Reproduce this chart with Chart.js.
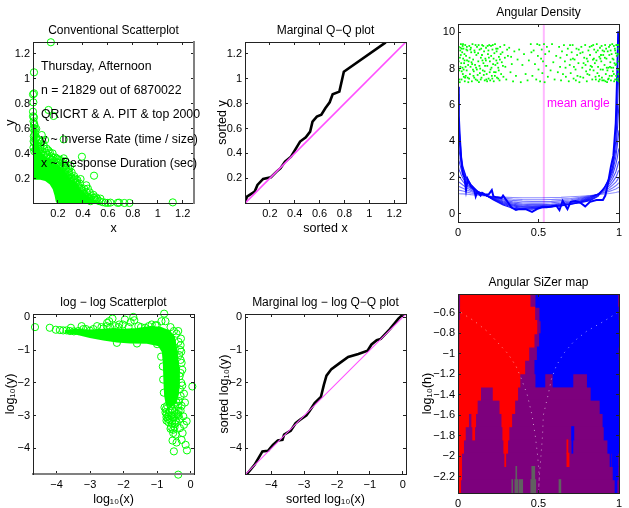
<!DOCTYPE html>
<html>
<head>
<meta charset="utf-8">
<title>Angular SiZer panels</title>
<script src="https://cdn.jsdelivr.net/npm/chart.js"></script>
<style>
  html, body { margin: 0; padding: 0; background: #fff; overflow: hidden; }
  canvas { position: absolute; }
</style>
</head>
<body>
<script>
// ── Data ───────────────────────────────────────────────────────────────────
const noteLines = [
  'Thursday, Afternoon',
  'n = 21829 out of 6870022',
  'QRICRT & A. PIT & top 2000',
  'y ~ Inverse Rate (time / size)',
  'x ~ Response Duration (sec)'
];
const linTicks = [0.2, 0.4, 0.6, 0.8, 1, 1.2];
const logTicks = [-4, -3, -2, -1, 0];
const angleTicks = [0, 0.5, 1];
const densityTicks = [0, 2, 4, 6, 8, 10];
const sizerTicks = [-0.6, -0.8, -1, -1.2, -1.4, -1.6, -1.8, -2, -2.2];

// conventional scatter: solid mass outline + individual circles
const scatterMass = [[0,.2],[.06,.2],[.1,.19],[.14,.16],[.165,.12],[.18,.07],[.19,.02],[.2,.005],[.53,.005],[.47,.03],[.42,.07],[.38,.1],[.34,.16],[.29,.2],[.24,.27],[.18,.31],[.13,.35],[.08,.38],[.05,.42],[.03,.5],[.018,.6],[0,.64]];
const scatterPts = [[.143,1.294],[.008,1.053],[.008,.884],[0,.876],[.003,.812],[0,.737],[0,.7],[.008,.692],[.124,.751],[.165,.703],[.392,.376],[.489,.224],[.246,.515],[1.12,.01],[.773,.005],[.732,.005],[.678,.006],[.69,.008],[.6,.006],[.62,.008],[.557,.012],[.58,.007],[.07,.55],[.097,.51],[.057,.457],[.124,.425],[.157,.403],[.205,.355],[.246,.363],[.3,.304],[.278,.256],[.327,.19],[.381,.197],[.427,.147],[.4,.1],[.484,.07],[.516,.037],[.457,.05],[.004,.66],[.012,.63],[.003,.6],[.016,.57],[.006,.54],[.022,.52],[.01,.49],[.03,.47],[.004,.45],[.04,.44],[.02,.43],[.06,.4],[.085,.385],[.11,.37],[.135,.36],[.165,.34],[.19,.33],[.215,.315],[.24,.29],[.26,.27],[.225,.3],[.29,.235],[.31,.21],[.27,.235],[.35,.17],[.33,.15],[.37,.13],[.345,.12],[.39,.12],[.41,.08],[.38,.08],[.43,.09],[.44,.055],[.47,.03],[.5,.03],[.53,.02],[.54,.04],[.46,.02],[.43,.03],[.075,.42],[.1,.41],[.145,.38],[.18,.37],[.205,.33],[.255,.31],[.285,.28],[.035,.49],[.05,.51],[.015,.6],[.21,.29],[.34,.2],[.3,.18],
  [.01,.42],[.025,.44],[.005,.5],[.028,.53],[.018,.48],[.012,.55],[.026,.6],[.008,.64],[.03,.4],[.045,.39],[.06,.44],[.08,.36],[.09,.44],[.115,.39],[.13,.33],[.15,.35],[.17,.3],[.19,.36],[.2,.3],[.22,.27],[.235,.33],[.25,.25],[.265,.3],[.28,.22],[.295,.2],[.31,.25],[.32,.18],[.34,.16],[.36,.15],[.355,.19],[.375,.16],[.39,.09],[.41,.12],[.42,.06],[.44,.12],[.455,.09],[.47,.06],[.49,.045],[.505,.05],[.45,.04],[.33,.22],[.29,.26],[.26,.34],[.22,.35],[.16,.37],[.135,.41],[.11,.44],[.085,.47],[.075,.5]];

// marginal Q-Q
const qqX = [0,.016,.078,.1,.146,.208,.254,.286,.322,.37,.403,.443,.489,.524,.543,.578,.614,.646,.681,.705,.759,.795,1.132];
const qqY = [.005,.053,.094,.147,.195,.209,.254,.281,.334,.374,.428,.495,.529,.575,.655,.695,.711,.762,.81,.874,.896,1.056,1.291];
const qqDiag = [0, 1.3];

// angular density: shared grid for the smooth family
const angleGrid = [0,.005,.01,.02,.03,.05,.08,.12,.17,.22,.28,.34,.4,.46,.52,.58,.64,.7,.76,.82,.87,.91,.94,.96,.98,.99,.995,1];
const density1  = [1.1,1.1,1.1,1.09,1.09,1.08,1.05,1.02,.98,.94,.91,.89,.88,.88,.88,.89,.9,.93,.96,1.0,1.04,1.08,1.11,1.14,1.17,1.19,1.2,1.2];
const density2  = [1.3,1.29,1.29,1.27,1.25,1.2,1.14,1.07,1.0,.93,.86,.81,.78,.77,.77,.78,.8,.84,.9,.98,1.06,1.15,1.23,1.29,1.36,1.41,1.44,1.45];
const density3  = [1.52,1.5,1.48,1.44,1.4,1.32,1.22,1.11,1.0,.9,.8,.73,.69,.67,.67,.68,.72,.77,.85,.95,1.07,1.2,1.32,1.42,1.54,1.62,1.67,1.7];
const density4  = [1.78,1.75,1.72,1.65,1.58,1.45,1.29,1.14,1.0,.88,.75,.65,.59,.58,.58,.6,.64,.7,.8,.93,1.08,1.26,1.42,1.57,1.74,1.86,1.95,2.0];
const density5  = [2.12,2.07,2.02,1.9,1.78,1.58,1.37,1.17,1.01,.86,.7,.58,.52,.5,.5,.52,.57,.64,.75,.9,1.08,1.32,1.53,1.74,2.0,2.2,2.32,2.4];
const density6  = [2.55,2.45,2.36,2.15,1.97,1.7,1.43,1.2,1.01,.84,.65,.52,.46,.44,.45,.47,.52,.6,.71,.87,1.08,1.37,1.65,1.92,2.3,2.6,2.78,2.9];
const density7  = [3.1,2.95,2.78,2.45,2.17,1.82,1.5,1.22,1.01,.82,.6,.47,.4,.39,.4,.43,.49,.56,.68,.84,1.08,1.42,1.77,2.12,2.7,3.1,3.4,3.6];
const density8  = [3.9,3.6,3.3,2.75,2.35,1.92,1.55,1.24,1.02,.8,.56,.42,.35,.34,.37,.4,.46,.53,.65,.8,1.05,1.45,1.87,2.3,3.1,3.8,4.25,4.6];
const density9  = [5.0,4.4,3.85,3.0,2.5,2.0,1.6,1.25,1.03,.78,.52,.37,.3,.3,.35,.38,.44,.52,.63,.76,1.0,1.45,1.95,2.45,3.5,4.6,5.4,6.0];
const density10 = [6.6,5.4,4.4,3.2,2.6,2.05,1.62,1.22,1.03,.75,.48,.3,.26,.25,.33,.37,.42,.52,.6,.72,.95,1.45,2.0,2.6,4.0,5.6,7.0,8.0];
const roughX = [.002,.005,.01,.02,.03,.04,.05,.06,.07,.08,.1,.11,.12,.14,.15,.17,.19,.21,.22,.24,.27,.28,.3,.33,.36,.38,.42,.46,.49,.52,.55,.58,.61,.63,.65,.68,.7,.73,.76,.79,.82,.86,.9,.915,.93,.95,.965,.98,.99,.995,1];
const roughY = [7,5.4,4.4,3,2.2,2,1.3,1.9,1.7,1.5,1.35,.95,1.2,1,1.15,1.05,1.05,1.3,.95,.9,.85,1,.75,.35,.2,.25,.25,.1,.25,.35,.35,.4,.45,.2,.7,.25,.65,.7,.6,.4,.65,.75,.75,1,1.6,2.6,3.2,5,8,10,10];
const meanAngle = 0.533;
const angleDots = [[.005,9.2],[.012,8.6],[.008,7.9],[.018,9.35],[.022,7.4],[.015,8.1],[.026,8.9],[.03,7.7],[.034,9.1],[.038,8.3],[.042,7.3],[.045,9.3],[.05,8.7],[.054,7.9],[.058,9],[.06,7.5],[.066,8.4],[.07,9.25],[.074,7.7],[.078,8.1],[.082,8.9],[.086,7.3],[.09,9.35],[.094,8.5],[.098,7.85],[.102,9],[.106,8.2],[.11,7.4],[.114,8.75],[.118,9.2],[.122,7.65],[.126,8.4],[.13,7.25],[.134,9.05],[.138,8],[.142,8.6],[.146,7.5],[.15,9.3],[.154,7.9],[.158,8.3],[.162,8.95],[.166,7.35],[.17,8.55],[.174,9.15],[.178,7.7],[.182,8.15],[.186,8.8],[.19,7.45],[.194,9.3],[.198,8.4],[.202,7.95],[.206,8.7],[.21,7.6],[.214,9.05],[.218,8.25],[.222,7.3],[.226,8.85],[.23,9.35],[.234,7.8],[.238,8.45],[.242,7.5],[.246,9.1],[.25,8.05],[.254,8.65],[.258,7.35],[.262,9.2],[.268,7.7],[.272,8.35],[.276,8.9],[.282,7.55],[.288,9.3],[.294,8.1],[.3,7.4],[.31,8.7],[.318,9.15],[.326,7.8],[.334,8.25],[.342,7.3],[.35,8.95],[.36,7.6],[.37,8.5],[.38,9.05],[.39,7.25],[.4,8.2],[.41,8.8],[.42,7.7],[.432,7.35],[.44,8.45],[.452,9.35],[.456,8.9],[.462,7.6],[.47,9],[.478,8.25],[.486,7.4],[.492,9.35],[.496,8.7],[.5,7.95],[.506,9.3],[.51,7.3],[.516,8.55],[.52,9.05],[.524,7.75],[.528,8.4],[.534,9.35],[.538,7.25],[.542,8.8],[.548,8.15],[.552,9.2],[.558,7.55],[.566,8.95],[.575,7.9],[.584,9.35],[.592,8.35],[.6,7.4],[.61,8.7],[.62,7.8],[.628,9.2],[.634,8.1],[.64,7.35],[.646,8.95],[.652,7.7],[.658,9.3],[.664,8.4],[.67,7.55],[.676,8.75],[.682,9.1],[.688,7.3],[.694,8.2],[.7,7.75],[.706,8.9],[.712,9.3],[.718,7.45],[.724,8.5],[.73,7.95],[.736,9.1],[.742,7.6],[.748,8.3],[.754,7.25],[.76,8.85],[.766,9.2],[.772,8.05],[.778,7.5],[.784,8.6],[.79,9.3],[.796,7.85],[.8,7.3],[.806,8.4],[.81,9],[.816,7.65],[.82,8.75],[.824,8.15],[.83,9.25],[.834,7.4],[.838,8.5],[.842,7.9],[.846,9.05],[.85,8.3],[.854,7.55],[.858,8.9],[.862,9.35],[.866,7.75],[.87,8.1],[.874,7.3],[.878,8.65],[.882,9.15],[.886,7.95],[.89,8.4],[.894,7.5],[.898,9],[.902,8.75],[.906,7.35],[.91,8.2],[.914,9.3],[.918,7.7],[.922,8.55],[.926,7.25],[.93,8.95],[.934,8.05],[.938,9.2],[.942,7.6],[.946,8.35],[.95,7.35],[.954,8.8],[.958,9.35],[.962,7.85],[.966,8.5],[.97,7.3],[.974,9.1],[.978,8.2],[.982,7.6],[.986,8.7],[.99,9.3],[.994,7.95],[.997,8.4],[.999,7.3],
  [.004,8.4],[.009,7.4],[.014,9],[.02,8.3],[.024,9.1],[.028,8.05],[.032,8.55],[.036,7.55],[.04,8.8],[.047,8.1],[.052,9.05],[.056,8.45],[.064,7.25],[.072,8.6],[.08,9.15],[.088,8.25],[.096,7.6],[.104,8.9],[.112,8.05],[.12,7.35],[.128,9.3],[.136,7.75],[.144,9.1],[.152,8.45],[.16,7.65],[.168,8.15],[.176,7.4],[.184,9.25],[.192,8.6],[.2,7.35],[.208,8.05],[.216,9.3],[.224,7.8],[.232,8.2],[.24,8.95],[.25,7.45],[.26,8.5],[.92,9.1],[.928,7.9],[.936,7.45],[.944,9.3],[.952,8.05],[.96,8.55],[.968,7.7],[.976,9],[.984,8.25],[.992,7.45],[.996,9.1],[.88,7.4],[.86,8.45],[.84,9.3],[.82,7.95],[.8,8.55],[.78,8.3],[.76,7.55],[.74,8.75],[.72,8.1],[.7,8.5],
  [.011,7.25],[.017,8.75],[.023,7.85],[.029,9.25],[.035,7.95],[.041,8.45],[.048,7.6],[.055,9.2],[.063,8.2],[.069,7.45],[.077,9.05],[.084,8.35],[.093,7.95],[.101,7.5],[.109,9.3],[.117,7.95],[.125,8.85],[.133,8.15],[.141,7.4],[.149,8.75],[.157,9.25],[.165,7.85],[.173,8.45],[.181,7.3],[.189,9],[.197,7.8],[.205,9.25],[.213,7.45],[.221,8.55],[.229,7.6],[.237,9.1],[.245,8.3],[.253,7.9],[.265,8.8],[.279,8.15],[.291,8.6],[.305,9.05],[.33,8.65],[.015,9.15],[.031,9.35],[.044,7.5],[.976,7.4],[.968,9.25],[.956,7.6],[.948,9],[.94,8.75],[.932,7.4],[.924,8.05],[.916,7.3],[.908,8.95],[.9,7.95],[.892,9.25],[.884,8.55],[.876,7.6],[.868,9],[.856,7.4],[.844,8.55],[.832,8.1],[.818,9.2],[.804,7.7],[.792,8.2],[.774,8.9],[.75,9.05],[.732,7.35],[.714,8.55],[.696,9.3],[.668,8.05],[.636,8.6],[.98,8.85],[.988,7.35],[.993,8.8],[.998,9.3],[.996,7.7],[.983,9.3],[.972,8.3],[.964,8.05],[.944,8.1],[.912,8.6],[.896,7.35],[.888,8.75]];

// log-log scatter
const logMass = [[-3.75,-.42],[-3.4,-.38],[-3,-.4],[-2.6,-.38],[-2.3,-.36],[-2,-.38],[-1.6,-.36],[-1.2,-.3],[-.9,-.32],[-.65,-.42],[-.5,-.6],[-.42,-1],[-.37,-1.5],[-.35,-2],[-.38,-2.35],[-.45,-2.6],[-.6,-2.72],[-.72,-2.62],[-.76,-2.4],[-.78,-2],[-.8,-1.4],[-.83,-1.05],[-.95,-.85],[-1.3,-.78],[-1.8,-.77],[-2.2,-.74],[-2.6,-.68],[-3,-.6],[-3.4,-.5],[-3.75,-.46]];
const logPts = [[-4.64,-.3],[-4.2,-.32],[-4.02,-.38],[-3.9,-.39],[-3.8,-.4],[-3.7,-.4],[-3.57,-.32],[-3.48,-.43],[-3.25,-.27],[-3.35,-.42],[-3.12,-.36],[-3,-.41],[-2.79,-.27],[-2.66,-.3],[-2.5,-.27],[-2.43,-.12],[-2.33,-.04],[-2.49,-.17],[-2.25,-.27],[-1.96,-.07],[-2.13,-.22],[-1.71,.01],[-1.68,-.09],[-1.79,-.15],[-2.02,-.22],[-1.56,-.27],[-1.36,-.32],[-1.16,-.22],[-1.01,-.24],[-.87,-.12],[-.79,.11],[-.75,-.12],[-.6,-.3],[-.37,-.42],[-.29,-.65],[.05,-2.11],[-.32,-.99],[-.27,-1.39],[-.25,-1.6],[-.25,-2.08],[-.2,-2.33],[-.17,-2.6],[-.27,-2.7],[-.22,-3.02],[-.12,-3.17],[-.2,-3.28],[-.24,-3.53],[-.32,-3.38],[-.52,-3.43],[-.52,-3.53],[-.45,-3.58],[-.54,-3.76],[-.42,-3.82],[-.27,-3.74],[-.15,-3.89],[-.11,-4.06],[-.5,-4.09],[-.37,-4.8],[-.3,-.85],[-.34,-1.15],[-.3,-1.3],[-.33,-1.8],[-.32,-2.2],[-.35,-2.55],[-.3,-2.85],[-.38,-2.95],[-.33,-3.1],[-.42,-3.2],[-.55,-3.25],[-.66,-3.2],[-.72,-3.15],[-.48,-3.35],[-.6,-3.4],[-.75,-2.9],[-.78,-2.75],[-.8,-2.3],[-.82,-1.9],[-.83,-1.5],[-.88,-1.2],[-1.05,-.25],[-1.25,-.27],[-1.48,-.3],[-1.85,-.3],[-2.15,-.3],[-2.4,-.3],[-2.6,-.34],[-2.9,-.36],[-3.2,-.36],[-3.6,-.42],[-.42,-.5],[-.5,-.42],[-.36,-.75],[-2.2,-.78],[-1.6,-.8],[-1,-.82],
  [-.7,-2.7],[-.62,-2.85],[-.72,-2.95],[-.55,-2.8],[-.48,-2.9],[-.66,-3.02],[-.58,-3],[-.5,-3.05],[-.42,-2.95],[-.72,-3.05],[-.62,-3.12],[-.55,-3.15],[-.45,-3.15],[-.38,-2.7],[-.42,-2.6],[-.5,-2.65],[-.6,-2.7],[-.74,-2.8],[-.65,-2.9],[-.36,-2.85],[-.3,-2.4],[-.28,-2],[-.3,-1.7],[-.28,-1.05],[-.36,-3.0],[-.47,-3.25],[-.58,-3.35],[-.68,-3.1]];

// marginal log-log Q-Q
const logQqX = [-4.74,-4.51,-4.27,-4.1,-3.95,-3.8,-3.66,-3.61,-3.41,-3.26,-3.13,-2.93,-2.83,-2.68,-2.49,-2.4,-2.32,-2.17,-1.91,-1.66,-1.35,-1.07,-.95,-.79,-.67,-.39,-.13,0,.07];
const logQqY = [-4.78,-4.5,-4.09,-4.07,-3.89,-3.76,-3.74,-3.58,-3.46,-3.23,-3.13,-2.99,-2.85,-2.62,-2.43,-2.06,-1.78,-1.58,-1.39,-1.21,-1.12,-1.02,-.83,-.7,-.66,-.36,-.04,.08,.1];
const logDiag = [-4.8, 0.1];

// SiZer map: rows of log10(h) and the coloured runs [row, from, to]
const sizerRows = [-.483,-.613,-.742,-.871,-1,-1.13,-1.259,-1.388,-1.518,-1.647,-1.776,-1.905,-2.035,-2.164,-2.293];
const sizerRed = [[0,.015,.448],[1,.015,.477],[2,.01,.49],[3,.01,.473],[4,.01,.44],[5,0,.415],[6,0,.385],[7,0,.141],[7,.218,.371],[8,0,.12],[8,.26,.353],[9,0,.066],[9,.085,.11],[9,.272,.334],[10,0,.046],[10,.091,.104],[10,.278,.317],[11,0,.035],[11,.284,.309],[11,.676,.683],[12,.006,.023],[12,.29,.297],[12,.676,.69],[13,.006,.023],[14,.004,.017]];
const sizerBlue = [[0,.483,.992],[1,.508,.996],[2,.515,1],[3,.506,1],[4,.492,.996],[5,.477,1],[6,.483,.54],[6,.59,.714],[6,.803,1],[7,.826,1],[8,.882,1],[9,.9,1],[10,.705,.72],[10,.907,1],[11,.707,.714],[11,.93,1],[12,.944,.95],[12,.956,.994],[13,.963,.994],[14,.975,.988]];
const sizerGrey = [[13,.359,.365],[13,.458,.477],[14,.334,.34],[14,.353,.371],[14,.378,.402],[14,.452,.483],[14,.627,.639]];
const sizerLeftX = [.02,.1,.18,.24,.31,.36,.395,.43,.46,.48,.495,.5,.505,.5];
const sizerRightX = [.99,.91,.8,.72,.655,.61,.58,.56,.53,.525,.515,.51,.505,.5];
const sizerCurveH = [-.6,-.68,-.78,-.88,-1,-1.12,-1.25,-1.4,-1.6,-1.8,-2,-2.1,-2.2,-2.35];

// ── Helpers ────────────────────────────────────────────────────────────────
const GREEN = '#00ff00';
const PINK = '#ff50ff';
const LEFT = 33, RIGHT = 10, TOP = 19;

Chart.defaults.font.family = '"Liberation Sans", Arial, sans-serif';
Chart.defaults.font.size = 11;
Chart.defaults.color = '#000';

const pts = (xs, ys) => xs.map((x, i) => ({ x, y: ys[i] }));
const pairs = list => list.map(p => ({ x: p[0], y: p[1] }));
const minusLabel = v => String(v).replace('-', '\u2212');
const runs = list => list.map(r => ({ y: sizerRows[r[0]], x: [r[1], r[2]] }));

function fitFixed(size, horiz) {
  return s => {
    s.paddingLeft = s.paddingRight = s.paddingTop = s.paddingBottom = 0;
    if (horiz) s.height = size; else s.width = size;
  };
}

function tickSetter(vals) {
  return s => { s.ticks = vals.map(value => ({ value })); };
}

function axis(range, vals, position, size, o = {}) {
  const horiz = position === 'top' || position === 'bottom';
  const main = position === 'left' || position === 'bottom';
  const cfg = {
    type: 'linear',
    position,
    min: range[0],
    max: range[1],
    offset: false,
    afterBuildTicks: tickSetter(vals),
    afterFit: fitFixed(size, horiz),
    border: { display: true, color: o.borderColor || '#222', width: o.borderWidth || 1, z: 1 },
    grid: { display: true, drawOnChartArea: false, drawTicks: true, tickLength: -3, tickColor: '#222', offset: false, z: 1 },
    ticks: {
      display: main,
      autoSkip: false,
      maxRotation: 0,
      minRotation: 0,
      padding: horiz ? 7 : 6,
      z: 1,
      callback: minusLabel
    }
  };
  if (main && o.title) {
    cfg.title = {
      display: true,
      text: o.title,
      font: { size: 12.5 },
      padding: { top: o.titlePad || 0, bottom: o.titlePad || 0 }
    };
  }
  return cfg;
}

function panel(p) {
  const c = document.createElement('canvas');
  const bottom = p.bottom || 34;
  const leftSize = p.leftSize || LEFT;
  const width = leftSize + p.w + RIGHT;
  const height = TOP + p.h + bottom;
  c.width = width;
  c.height = height;
  c.style.left = (p.left - leftSize) + 'px';
  c.style.top = (p.top - TOP) + 'px';
  document.body.appendChild(c);
  return new Chart(c.getContext('2d'), {
    type: p.type || 'scatter',
    data: { datasets: p.datasets },
    plugins: p.plugins || [],
    options: {
      responsive: false,
      animation: false,
      events: [],
      indexAxis: p.indexAxis || 'x',
      layout: { padding: { left: 0, right: RIGHT, top: 0, bottom: 0 } },
      plugins: {
        legend: { display: false },
        tooltip: { enabled: false },
        title: {
          display: true,
          text: p.title,
          fullSize: false,
          color: '#000',
          font: { size: 12, weight: 'normal', lineHeight: 1.25 },
          padding: { top: 0, bottom: 4 }
        }
      },
      scales: {
        x: axis(p.xRange, p.xTicks, 'bottom', bottom, { title: p.xTitle, titlePad: p.xPad, borderColor: p.bottomGrey && '#808080', borderWidth: p.bottomGrey && 2 }),
        y: axis(p.yRange, p.yTicks, 'left', leftSize, { title: p.yTitle, titlePad: p.yPad }),
        x2: axis(p.xRange, p.xTicks, 'top', 0),
        y2: axis(p.yRange, p.yTicks, 'right', 0, { borderColor: p.rightGrey && '#808080', borderWidth: p.rightGrey && 2 })
      }
    }
  });
}

function circles(data) {
  return { data, showLine: false, clip: 8, pointStyle: 'circle', pointRadius: 3.6, borderColor: GREEN, borderWidth: 1, backgroundColor: 'transparent' };
}
function mass(data) {
  return { data, showLine: true, fill: 'shape', pointRadius: 0, borderColor: GREEN, backgroundColor: GREEN, borderWidth: 2, tension: 0 };
}
function line(data, color, width) {
  return { data, showLine: true, fill: false, pointRadius: 0, borderColor: color, backgroundColor: color, borderWidth: width, tension: 0 };
}

// small pixel-offset notes that sit inside the plot box
function notesPlugin(lines, color, size) {
  return {
    id: 'notes',
    afterDraw(chart) {
      const ctx = chart.ctx, a = chart.chartArea;
      ctx.save();
      ctx.font = size + 'px "Liberation Sans", Arial, sans-serif';
      ctx.fillStyle = color;
      ctx.textBaseline = 'middle';
      lines.forEach(l => ctx.fillText(l.text, a.left + l.dx, a.top + l.dy));
      ctx.restore();
    }
  };
}

// ── Panels ─────────────────────────────────────────────────────────────────
panel({
  left: 33, top: 42, w: 161, h: 161,
  title: 'Conventional Scatterplot', xTitle: 'x', yTitle: 'y', yPad: 3, xPad: 1,
  xRange: [0, 1.29], yRange: [.005, 1.296], xTicks: linTicks, yTicks: linTicks, rightGrey: true,
  datasets: [circles(pairs(scatterPts)), mass(pairs(scatterMass))],
  plugins: [notesPlugin(noteLines.map((text, i) => ({ text, dx: 8, dy: [25, 49, 73, 98, 122][i] })), '#000', 12.3)]
});

panel({
  left: 245, top: 42, w: 161, h: 161,
  title: 'Marginal Q\u2212Q plot', xTitle: 'sorted x', yTitle: 'sorted y', yPad: 3, xPad: 1,
  xRange: [0, 1.295], yRange: [.002, 1.294], xTicks: linTicks, yTicks: linTicks,
  datasets: [line(pts(qqDiag, qqDiag), PINK, 1.6), line(pts(qqX, qqY), '#000', 2.6)]
});

const densityFamily = [density1, density2, density3, density4, density5, density6, density7, density8, density9, density10];
panel({
  left: 458, top: 24, w: 161, h: 198, bottom: 20,
  title: 'Angular Density',
  xRange: [0, 1], yRange: [-.46, 10.46], xTicks: angleTicks, yTicks: densityTicks,
  datasets: [
    { data: pairs(angleDots), showLine: false, pointStyle: 'rect', pointRadius: 1.25, borderWidth: 0, backgroundColor: GREEN },
    line(pts(roughX, roughY), '#0000ff', 2),
    ...densityFamily.map((d, i) => line(pts(angleGrid, d), `rgba(0,0,255,${0.45 + i * 0.05})`, 1.1)),
    line(pts([meanAngle, meanAngle], [-.46, 10.46]), '#ffb8ff', 2)
  ],
  plugins: [notesPlugin([{ text: 'mean angle', dx: 89, dy: 80 }], '#ff00ff', 12)]
});

panel({
  left: 33, top: 314, w: 161, h: 160,
  title: 'log \u2212 log Scatterplot', xTitle: 'log\u2081\u2080(x)', yTitle: 'log\u2081\u2080(y)', yPad: 3, xPad: 1,
  xRange: [-4.7, .1], yRange: [-4.78, .1], xTicks: logTicks, yTicks: logTicks, bottomGrey: true,
  datasets: [circles(pairs(logPts)), mass(pairs(logMass))]
});

panel({
  left: 245, top: 314, w: 161, h: 160,
  title: 'Marginal log \u2212 log Q\u2212Q plot', xTitle: 'sorted log\u2081\u2080(x)', yTitle: 'sorted log\u2081\u2080(y)', yPad: 5, xPad: 1,
  xRange: [-4.8, .1], yRange: [-4.78, .1], xTicks: logTicks, yTicks: logTicks,
  datasets: [line(pts(logDiag, logDiag), PINK, 1.1), line(pts(logQqX, logQqY), '#000', 2.6)]
});

function bars(data, color) {
  return { type: 'bar', data, backgroundColor: color, borderWidth: 0, grouped: false, barThickness: 13.6 };
}
function dotted(xs) {
  return { type: 'line', data: pts(xs, sizerCurveH), fill: false, pointRadius: 0, tension: 0, borderWidth: 1, borderDash: [1, 5], borderColor: 'rgba(255,255,255,.6)' };
}
panel({
  type: 'bar', indexAxis: 'y',
  left: 458, top: 294, w: 161, h: 199, bottom: 15, leftSize: 38,
  title: 'Angular SiZer map', yTitle: 'log\u2081\u2080(h)', yPad: 0,
  xRange: [0, 1], yRange: [-2.358, -.418], xTicks: angleTicks, yTicks: sizerTicks,
  datasets: [
    dotted(sizerLeftX),
    dotted(sizerRightX),
    bars(runs(sizerGrey), '#606060'),
    bars(runs(sizerRed), '#ff0000'),
    bars(runs(sizerBlue), '#0000ff'),
    bars(sizerRows.map(y => ({ y, x: [0, 1] })), '#7d007d')
  ]
});
</script>
</body>
</html>
